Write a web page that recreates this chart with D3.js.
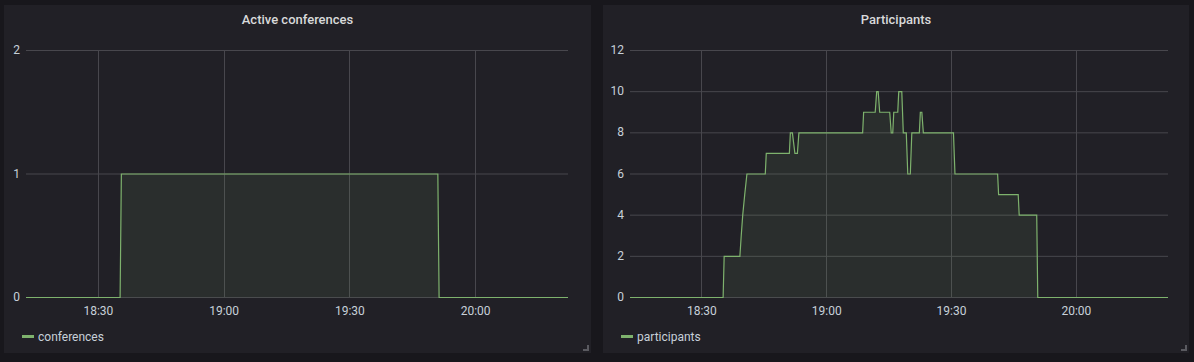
<!DOCTYPE html>
<html>
<head>
<meta charset="utf-8">
<script src="https://cdn.jsdelivr.net/npm/d3@7"></script>
<style>
  body { margin: 0; background: #18171c; font-family: Roboto, "Noto Sans", sans-serif; }
  svg { display: block; }
</style>
</head>
<body>
<div id="chart"></div>
<script>
// minutes after 18:00 and values
const timeDomain = [12.85, 142.15];
const tickMinutes = [30, 60, 90, 120];

const conferenceMinutes = [12.85, 35.3, 35.6, 111.1, 111.4, 142.15];
const conferenceValues  = [0, 0, 1, 1, 0, 0];

const participantMinutes = [12.85, 35.23, 35.48, 39.26, 39.58, 39.94, 40.42, 40.95, 45.36, 45.6,
  51.15, 51.39, 51.88, 52.48, 53.08, 53.44, 68.76, 69.0, 71.78, 72.14, 72.5, 72.86,
  75.27, 75.63, 76.0, 76.24, 77.2, 77.44, 78.17, 78.53, 79.25, 79.61, 80.22, 80.58,
  82.39, 82.63, 82.99, 83.35, 90.59, 90.95, 101.2, 101.44, 106.15, 106.39, 110.6, 110.85, 142.15];
const participantValues = [0, 0, 2, 2, 3, 4, 5, 6, 6, 7,
  7, 8, 8, 7, 7, 8, 8, 9, 9, 10, 10, 9,
  9, 8, 8, 9, 9, 10, 10, 8, 8, 6, 6, 8,
  8, 9, 9, 8, 8, 6, 6, 5, 5, 4, 4, 0, 0];

const panels = [
  { title: "Active conferences", legend: "conferences", x: 4, w: 587, plotLeft: 26, plotRight: 568,
    yMax: 2, yTicks: [0, 1, 2], minutes: conferenceMinutes, values: conferenceValues },
  { title: "Participants", legend: "participants", x: 603, w: 586, plotLeft: 630, plotRight: 1168,
    yMax: 12, yTicks: [0, 2, 4, 6, 8, 10, 12], minutes: participantMinutes, values: participantValues }
];

const W = 1194, H = 362;
const lineColor = "#7eb26d";
const gridColor = "#48474d";
const textColor = "#c7d0d9";
const base = new Date(2020, 0, 1, 18, 0, 0);
const toDate = m => new Date(base.getTime() + m * 60000);

const svg = d3.select("#chart").append("svg")
  .attr("width", W)
  .attr("height", H);

panels.forEach(p => {
  const top = 50, bottom = 297;

  svg.append("rect")
    .attr("x", p.x).attr("y", 5)
    .attr("width", p.w).attr("height", 348)
    .attr("fill", "#212026");

  svg.append("text")
    .attr("x", p.x + p.w / 2)
    .attr("y", 24)
    .attr("text-anchor", "middle")
    .attr("fill", "#d8d9da")
    .style("font-size", "13px")
    .style("font-weight", "500")
    .text(p.title);

  const x = d3.scaleTime()
    .domain(timeDomain.map(toDate))
    .range([p.plotLeft, p.plotRight]);
  const y = d3.scaleLinear()
    .domain([0, p.yMax])
    .range([bottom, top]);

  // grid
  const g = svg.append("g");
  g.selectAll(".hgrid").data(p.yTicks).enter().append("line")
    .attr("x1", p.plotLeft).attr("x2", p.plotRight)
    .attr("y1", d => y(d) + 0.5).attr("y2", d => y(d) + 0.5)
    .attr("stroke", gridColor);
  g.selectAll(".vgrid").data(tickMinutes).enter().append("line")
    .attr("x1", d => Math.round(x(toDate(d))) + 0.5).attr("x2", d => Math.round(x(toDate(d))) + 0.5)
    .attr("y1", top).attr("y2", bottom)
    .attr("stroke", gridColor);

  // y labels
  g.selectAll(".ylab").data(p.yTicks).enter().append("text")
    .attr("x", p.plotLeft - 6)
    .attr("y", d => y(d) + 4)
    .attr("text-anchor", "end")
    .attr("fill", textColor)
    .style("font-size", "12px")
    .text(d => d);

  // x axis
  const xAxis = d3.axisBottom(x)
    .tickValues(tickMinutes.map(toDate))
    .tickFormat(d3.timeFormat("%H:%M"))
    .tickSize(0)
    .tickPadding(9);
  const ax = svg.append("g")
    .attr("transform", `translate(0,${bottom})`)
    .call(xAxis);
  ax.select(".domain").remove();
  ax.selectAll("text")
    .attr("fill", textColor)
    .style("font-size", "12px")
    .style("font-family", "Roboto, sans-serif");

  const pts = p.minutes.map((m, i) => ({ t: toDate(m), v: p.values[i] }));
  const series = svg.append("g").attr("transform", "translate(0,0.5)");

  series.append("path")
    .datum(pts)
    .attr("fill", lineColor)
    .attr("fill-opacity", 0.1)
    .attr("d", d3.area().x(d => x(d.t)).y0(y(0)).y1(d => y(d.v)));

  series.append("path")
    .datum(pts)
    .attr("fill", "none")
    .attr("stroke", lineColor)
    .attr("stroke-width", 1.2)
    .attr("d", d3.line().x(d => x(d.t)).y(d => y(d.v)));

  // legend
  svg.append("line")
    .attr("x1", p.x + 18).attr("x2", p.x + 30)
    .attr("y1", 336.5).attr("y2", 336.5)
    .attr("stroke", lineColor)
    .attr("stroke-width", 3);
  svg.append("text")
    .attr("x", p.x + 34)
    .attr("y", 340.5)
    .attr("fill", textColor)
    .style("font-size", "12px")
    .text(p.legend);

  // resize handle
  svg.append("path")
    .attr("d", `M${p.x + p.w - 3},${345} V${350} H${p.x + p.w - 8}`)
    .attr("fill", "none")
    .attr("stroke", "#5a5a60")
    .attr("stroke-width", 2);
});
</script>
</body>
</html>
